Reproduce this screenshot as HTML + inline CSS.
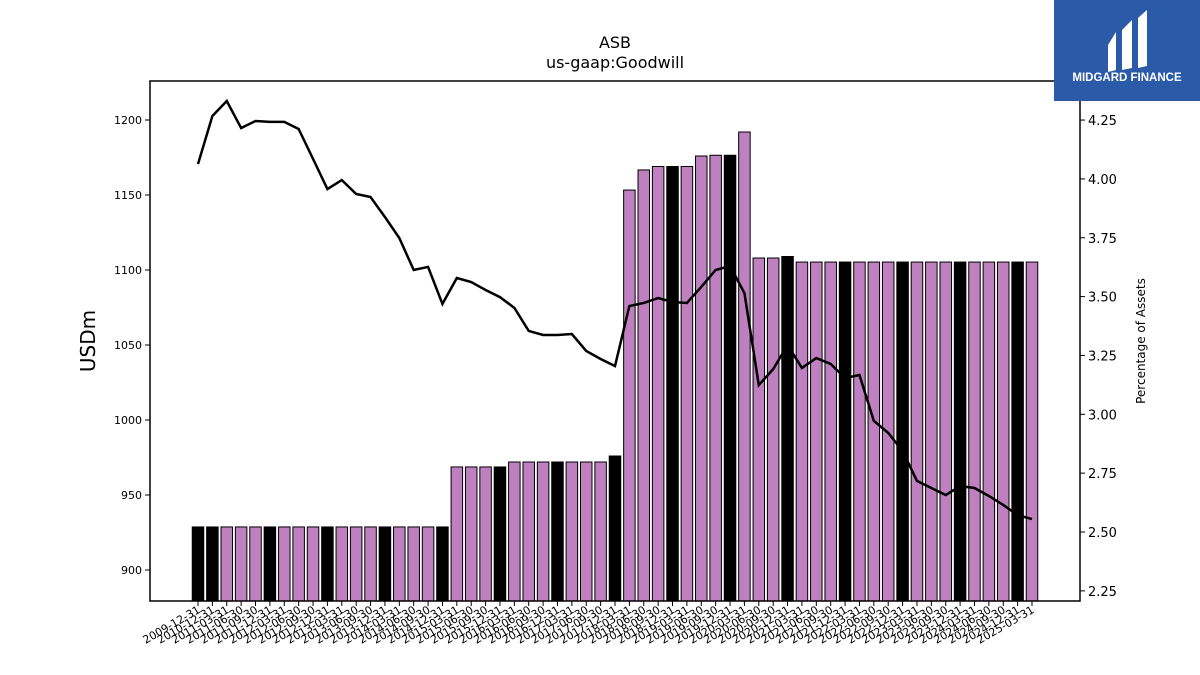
<!DOCTYPE html>
<html><head><meta charset="utf-8"><style>
html,body{margin:0;padding:0;background:#fff;width:1200px;height:675px;overflow:hidden;font-family:"Liberation Sans","DejaVu Sans",sans-serif;}
</style></head><body>
<svg id="chart" width="1200" height="675" xmlns="http://www.w3.org/2000/svg" font-family="DejaVu Sans, Liberation Sans, sans-serif">
<text x="615" y="48" text-anchor="middle" font-size="16">ASB</text>
<text x="615" y="68" text-anchor="middle" font-size="16">us-gaap:Goodwill</text>
<g id="bars"></g>
<g id="line"></g>
<rect x="150" y="81" width="930" height="520" fill="none" stroke="#000" stroke-width="1.5"/>
<g id="axes"></g>
<text x="95" y="341" text-anchor="middle" font-size="20" transform="rotate(-90 95 341)">USDm</text>
<text x="1145" y="341" text-anchor="middle" font-size="12" transform="rotate(-90 1145 341)">Percentage of Assets</text>
<g>
<rect x="1054" y="0" width="146" height="101" fill="#2b5aa8"/>
<path d="M1108 45 L1116 32 L1116 70 L1108 72 Z" fill="#fff"/>
<path d="M1122 30 L1132 20 L1132 68 L1122 70 Z" fill="#fff"/>
<path d="M1138 18 L1147 10 L1147 66 L1138 68 Z" fill="#fff"/>
<text x="1127" y="81" text-anchor="middle" font-size="11.5" font-weight="bold" fill="#fff" font-family="Liberation Sans, sans-serif">MIDGARD FINANCE</text>
</g>
</svg>
<script>
const dates=["2009-12-31","2010-12-31","2011-03-31","2011-06-30","2011-09-30","2011-12-31","2012-03-31","2012-06-30","2012-09-30","2012-12-31","2013-03-31","2013-06-30","2013-09-30","2013-12-31","2014-03-31","2014-06-30","2014-09-30","2014-12-31","2015-03-31","2015-06-30","2015-09-30","2015-12-31","2016-03-31","2016-06-30","2016-09-30","2016-12-31","2017-03-31","2017-06-30","2017-09-30","2017-12-31","2018-03-31","2018-06-30","2018-09-30","2018-12-31","2019-03-31","2019-06-30","2019-09-30","2019-12-31","2020-03-31","2020-06-30","2020-09-30","2020-12-31","2021-03-31","2021-06-30","2021-09-30","2021-12-31","2022-03-31","2022-06-30","2022-09-30","2022-12-31","2023-03-31","2023-06-30","2023-09-30","2023-12-31","2024-03-31","2024-06-30","2024-09-30","2024-12-31","2025-03-31"];
const goodwill=[928.7,928.7,928.7,928.7,928.7,928.7,928.7,928.7,928.7,928.7,928.7,928.7,928.7,928.7,928.7,928.7,928.7,928.7,968.7,968.7,968.7,968.7,972,972,972,972,972,972,972,976,1153.3,1166.7,1169,1169,1169,1176,1176.5,1176.5,1192,1108,1108,1109,1105.3,1105.3,1105.3,1105.3,1105.3,1105.3,1105.3,1105.3,1105.3,1105.3,1105.3,1105.3,1105.3,1105.3,1105.3,1105.3,1105.3];
const pctAssets=[4.063,4.267,4.331,4.216,4.246,4.242,4.242,4.212,4.085,3.957,3.995,3.936,3.923,3.838,3.749,3.613,3.626,3.469,3.579,3.562,3.528,3.498,3.452,3.354,3.337,3.337,3.341,3.269,3.235,3.205,3.46,3.473,3.494,3.477,3.473,3.541,3.613,3.63,3.515,3.124,3.192,3.294,3.197,3.239,3.214,3.154,3.167,2.972,2.921,2.844,2.717,2.687,2.657,2.695,2.687,2.653,2.615,2.572,2.555];
const leftTicks=[900,950,1000,1050,1100,1150,1200];
const rightTicks=[2.25,2.5,2.75,3.0,3.25,3.5,3.75,4.0,4.25];
const NS="http://www.w3.org/2000/svg";
const x=i=>198+i*(834/58);
const yL=v=>570-(v-900)*1.5;
const yR=v=>532-(v-2.5)*235.4;
function mk(tag,attrs,parent){const e=document.createElementNS(NS,tag);for(const k in attrs)e.setAttribute(k,attrs[k]);parent.appendChild(e);return e;}
const gb=document.getElementById('bars'),gl=document.getElementById('line'),ga=document.getElementById('axes');
const bw=11.5;
dates.forEach((d,i)=>{
  const isQ4=d.endsWith("12-31");
  const r=mk('rect',{x:x(i)-bw/2,y:yL(goodwill[i]),width:bw,height:601-yL(goodwill[i]),fill:isQ4?'#000':'#bf80bf',stroke:'#000','stroke-width':1},gb);
  
  
  const t=mk('line',{x1:x(i),x2:x(i),y1:601,y2:606,stroke:'#000','stroke-width':1},ga);
  
  
  const lx=x(i)+3,ly=612;
  const lb=mk('text',{x:lx,y:ly,'text-anchor':'end','font-size':11,transform:`rotate(-30 ${lx} ${ly})`},ga);
  lb.textContent=d;
  
  
});
const pl=mk('polyline',{points:pctAssets.map((v,i)=>x(i)+','+yR(v)).join(' '),fill:'none',stroke:'#000','stroke-width':2.5},gl);


leftTicks.forEach(v=>{
  const t=mk('line',{x1:145,x2:150,y1:yL(v),y2:yL(v),stroke:'#000'},ga);
  
  
  const l=mk('text',{x:142,y:yL(v)+4,'text-anchor':'end','font-size':11},ga);
  l.textContent=v;
  
  
});
rightTicks.forEach(v=>{
  const t=mk('line',{x1:1080,x2:1085,y1:yR(v),y2:yR(v),stroke:'#000'},ga);
  
  
  const l=mk('text',{x:1088,y:yR(v)+5,'font-size':13},ga);
  l.textContent=v.toFixed(2);
  
  
});
</script>
</body></html>
